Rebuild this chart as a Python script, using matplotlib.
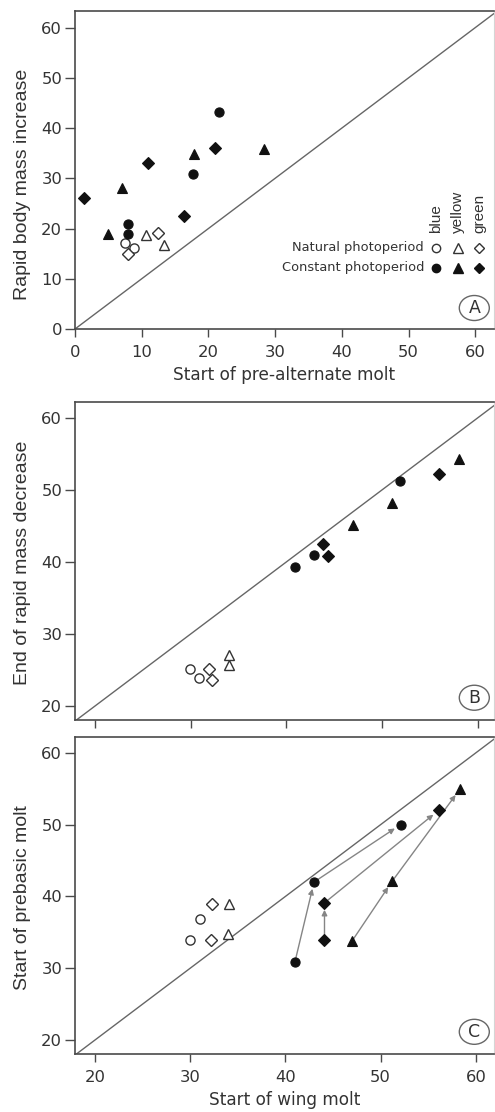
import matplotlib
matplotlib.use("Agg")
import matplotlib.pyplot as plt
from matplotlib.patches import Ellipse

plt.rcParams['font.family'] = ['DejaVu Sans']

# ---------------- data ----------------
colors_order = ["blue", "yellow", "green"]
conditions = ["Natural photoperiod", "Constant photoperiod"]

# Panel A: start of pre-alternate molt (x) vs rapid body mass increase (y)
A_nat_blue_x = [7.5, 8.9];            A_nat_blue_y = [17.1, 16.2]
A_nat_yellow_x = [10.7, 13.3];        A_nat_yellow_y = [18.7, 16.7]
A_nat_green_x = [7.9, 12.5];          A_nat_green_y = [14.9, 19.1]
A_con_blue_x = [21.6, 17.7, 7.9, 7.9];    A_con_blue_y = [43.2, 30.9, 20.9, 18.9]
A_con_yellow_x = [7.1, 17.9, 28.3, 5.0];  A_con_yellow_y = [28.0, 34.9, 35.9, 18.9]
A_con_green_x = [1.4, 10.9, 21.0, 16.3];  A_con_green_y = [26.0, 33.1, 36.0, 22.4]

# Panel B: start of wing molt (x) vs end of rapid mass decrease (y)
B_nat_blue_x = [29.9, 30.9];          B_nat_blue_y = [25.2, 23.9]
B_nat_yellow_x = [34.0, 34.0];        B_nat_yellow_y = [27.1, 25.7]
B_nat_green_x = [31.9, 32.2];         B_nat_green_y = [25.1, 23.6]
B_con_blue_x = [40.9, 42.9, 51.9];    B_con_blue_y = [39.3, 41.0, 51.3]
B_con_yellow_x = [47.0, 51.0, 58.0];  B_con_yellow_y = [45.1, 48.2, 54.3]
B_con_green_x = [43.8, 44.3, 56.0];   B_con_green_y = [42.5, 40.8, 52.2]

# Panel C: start of wing molt (x) vs start of prebasic molt (y)
C_nat_blue_x = [30.0, 31.0];          C_nat_blue_y = [33.9, 36.9]
C_nat_yellow_x = [34.1, 34.0];        C_nat_yellow_y = [38.9, 34.7]
C_nat_green_x = [32.3, 32.2];         C_nat_green_y = [38.9, 33.9]
C_con_blue_x = [41.0, 43.0, 52.1];    C_con_blue_y = [30.9, 42.0, 50.0]
C_con_yellow_x = [47.0, 51.2, 58.3];  C_con_yellow_y = [33.8, 42.1, 54.9]
C_con_green_x = [44.1, 44.1, 56.1];   C_con_green_y = [33.9, 39.1, 52.0]

ticks_A = [0, 10, 20, 30, 40, 50, 60]
ticks_BC = [20, 30, 40, 50, 60]

# ---------------- style ----------------
marker_of = {"blue": "o", "yellow": "^", "green": "D"}
msize_of = {"blue": 6.6, "yellow": 7.6, "green": 6.2}
FILL = "#111111"
EDGE_OPEN = "#333333"
SPINE = "#4a4a4a"
TXT = "#333333"
DIAG = "#666666"
ARROW = "#858585"
VFONT = ['Liberation Sans', 'DejaVu Sans']   # vertical texts

fig = plt.figure(figsize=(4.95, 11.12), dpi=100)
W, H = 495.0, 1112.0

def add_ax(top_px, bot_px):
    return fig.add_axes([75 / W, 1 - bot_px / H, 419 / W, (bot_px - top_px) / H])

axA = add_ax(11, 329)
axB = add_ax(402, 720)
axC = add_ax(737, 1054)

def style(ax, xlim, ylim, xt, yt, show_xlabels=True):
    ax.set_xlim(*xlim)
    ax.set_ylim(*ylim)
    ax.set_xticks(xt)
    ax.set_yticks(yt)
    for s in ["left", "bottom", "top"]:
        ax.spines[s].set_color(SPINE)
        ax.spines[s].set_linewidth(1.2)
    ax.spines["right"].set_color("#d5d5d5")
    ax.spines["right"].set_linewidth(0.8)
    ax.tick_params(axis="x", direction="out", length=6, width=1.0,
                   color=SPINE, labelcolor=TXT, labelsize=11.8, pad=5.5)
    ax.tick_params(axis="y", direction="out", length=7, width=1.0,
                   color=SPINE, labelcolor=TXT, labelsize=11.8, pad=2.2)
    if not show_xlabels:
        ax.tick_params(axis="x", labelbottom=False)
    ax.axline((0, 0), slope=1, color=DIAG, lw=1.0, zorder=1)

def scatter_group(ax, xs, ys, color_name, filled):
    m = marker_of[color_name]
    ms = msize_of[color_name]
    if filled:
        ax.plot(xs, ys, ls="none", marker=m, ms=ms, mfc=FILL, mec=FILL,
                mew=0.8, zorder=4)
    else:
        ax.plot(xs, ys, ls="none", marker=m, ms=ms, mfc="white", mec=EDGE_OPEN,
                mew=1.0, zorder=4)

def draw_panel(ax, groups_nat, groups_con):
    for cname, (xs, ys) in zip(colors_order, groups_nat):
        scatter_group(ax, xs, ys, cname, False)
    for cname, (xs, ys) in zip(colors_order, groups_con):
        scatter_group(ax, xs, ys, cname, True)

def panel_letter(ax, letter, fy):
    bb = ax.get_position()
    wpx, hpx = bb.width * W, bb.height * H
    ax.add_patch(Ellipse((0.953, fy), 30 / wpx, 25 / hpx, transform=ax.transAxes,
                         fc="white", ec="#666666", lw=1.0, zorder=6))
    ax.text(0.953, fy, letter, transform=ax.transAxes, ha="center", va="center",
            fontsize=12.5, color=TXT, zorder=7)

def ylabel(ax, text, fy):
    ax.set_ylabel(text, fontsize=14, color=TXT, family=VFONT)
    ax.yaxis.set_label_coords(-0.104, fy)

def xlabel(ax, text):
    ax.set_xlabel(text, fontsize=12.2, color=TXT, labelpad=4.3)

# Panel A
style(axA, (0, 62.8), (0, 63.3), ticks_A, ticks_A)
draw_panel(axA,
           [(A_nat_blue_x, A_nat_blue_y), (A_nat_yellow_x, A_nat_yellow_y), (A_nat_green_x, A_nat_green_y)],
           [(A_con_blue_x, A_con_blue_y), (A_con_yellow_x, A_con_yellow_y), (A_con_green_x, A_con_green_y)])
xlabel(axA, "Start of pre-alternate molt")
ylabel(axA, "Rapid body mass increase", 0.456)
panel_letter(axA, "A", 0.066)

# Legend in panel A (manual, in axes fraction)
leg_x = [0.862, 0.913, 0.964]
row_y = [0.255, 0.192]
for ri, (cond, fy) in enumerate(zip(conditions, row_y)):
    axA.text(0.833, fy, cond, transform=axA.transAxes, ha="right", va="center",
             fontsize=9.4, color=TXT)
    for cname, fx in zip(colors_order, leg_x):
        filled = ri == 1
        axA.plot([fx], [fy], transform=axA.transAxes, ls="none",
                 marker=marker_of[cname], ms=msize_of[cname] - 0.6,
                 mfc=FILL if filled else "white", mec=FILL if filled else EDGE_OPEN,
                 mew=1.0, clip_on=False, zorder=5)
for cname, fx in zip(colors_order, leg_x):
    axA.text(fx, 0.302, cname, transform=axA.transAxes, rotation=90,
             ha="center", va="bottom", fontsize=11, color=TXT, family=VFONT)

# Panel B
style(axB, (17.9, 61.7), (18.05, 62.2), ticks_BC, ticks_BC, show_xlabels=False)
draw_panel(axB,
           [(B_nat_blue_x, B_nat_blue_y), (B_nat_yellow_x, B_nat_yellow_y), (B_nat_green_x, B_nat_green_y)],
           [(B_con_blue_x, B_con_blue_y), (B_con_yellow_x, B_con_yellow_y), (B_con_green_x, B_con_green_y)])
ylabel(axB, "End of rapid mass decrease", 0.495)
panel_letter(axB, "B", 0.070)

# Panel C
style(axC, (17.9, 61.9), (18.05, 62.2), ticks_BC, ticks_BC)
draw_panel(axC,
           [(C_nat_blue_x, C_nat_blue_y), (C_nat_yellow_x, C_nat_yellow_y), (C_nat_green_x, C_nat_green_y)],
           [(C_con_blue_x, C_con_blue_y), (C_con_yellow_x, C_con_yellow_y), (C_con_green_x, C_con_green_y)])
for xs, ys in [(C_con_blue_x, C_con_blue_y), (C_con_yellow_x, C_con_yellow_y),
               (C_con_green_x, C_con_green_y)]:
    for i in range(len(xs) - 1):
        axC.annotate("", xy=(xs[i + 1], ys[i + 1]), xytext=(xs[i], ys[i]),
                     arrowprops=dict(arrowstyle="-|>", color=ARROW, lw=1.0,
                                     mutation_scale=8, shrinkA=0, shrinkB=5),
                     zorder=3)
xlabel(axC, "Start of wing molt")
ylabel(axC, "Start of prebasic molt", 0.494)
panel_letter(axC, "C", 0.070)

fig.savefig("out.png", dpi=100)
